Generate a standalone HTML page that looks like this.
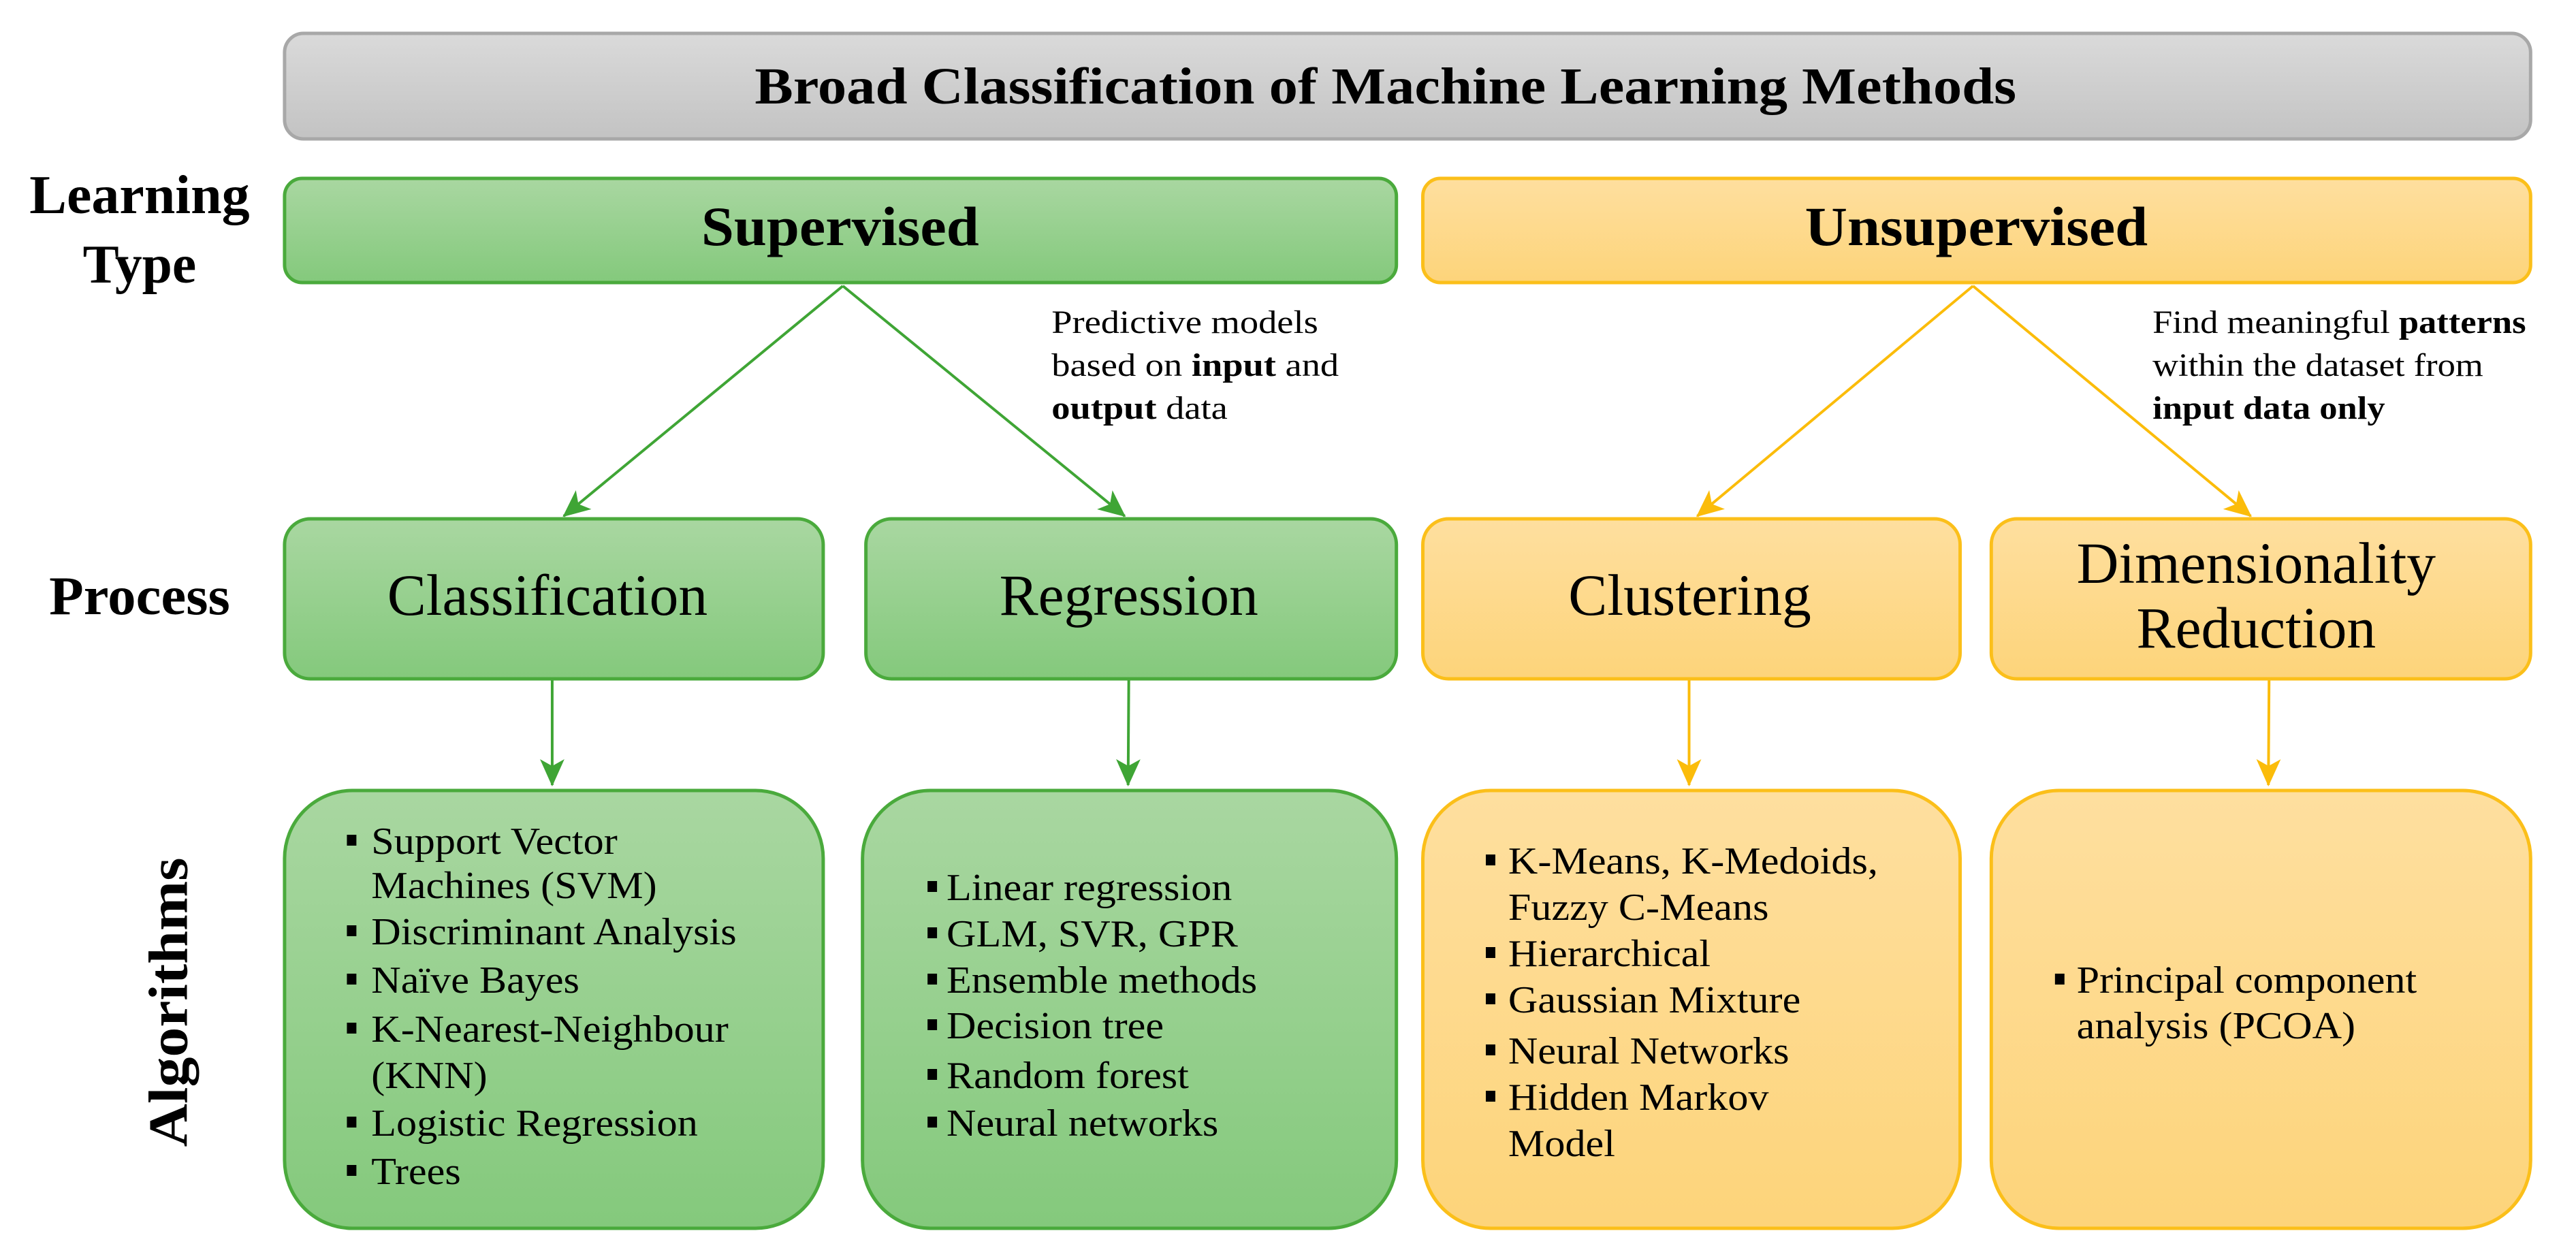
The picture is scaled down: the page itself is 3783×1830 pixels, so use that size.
<!DOCTYPE html>
<html><head><meta charset="utf-8"><style>html,body{margin:0;padding:0;background:#fff}svg{display:block}</style></head>
<body>
<svg width="3783" height="1830" viewBox="0 0 3783 1830" xmlns="http://www.w3.org/2000/svg" font-family="'Liberation Serif', serif">
<defs>
<linearGradient id="gr" x1="0" y1="0" x2="0" y2="1"><stop offset="0" stop-color="#dadada"/><stop offset="1" stop-color="#c3c3c3"/></linearGradient>
<linearGradient id="gg" x1="0" y1="0" x2="0" y2="1"><stop offset="0" stop-color="#a9d7a1"/><stop offset="1" stop-color="#84c97c"/></linearGradient>
<linearGradient id="gy" x1="0" y1="0" x2="0" y2="1"><stop offset="0" stop-color="#fedf9f"/><stop offset="1" stop-color="#fdd47a"/></linearGradient>
<marker id="mg" viewBox="0 0 40 40" refX="38" refY="20" markerWidth="40" markerHeight="40" markerUnits="userSpaceOnUse" orient="auto"><path d="M0,2 L40,20 L0,38 L10,20 Z" fill="#3fa535"/></marker>
<marker id="my" viewBox="0 0 40 40" refX="38" refY="20" markerWidth="40" markerHeight="40" markerUnits="userSpaceOnUse" orient="auto"><path d="M0,2 L40,20 L0,38 L10,20 Z" fill="#fbbc0a"/></marker>
</defs>
<g transform="scale(0.995 1)">
<rect x="420" y="49" width="3315" height="155" rx="28" fill="url(#gr)" stroke="#a8a8a8" stroke-width="5"/>
<text x="2045" y="152" font-size="76" font-weight="bold" text-anchor="middle" textLength="1862" lengthAdjust="spacingAndGlyphs">Broad Classification of Machine Learning Methods</text>

<text x="206" y="313" font-size="80" font-weight="bold" text-anchor="middle" textLength="325" lengthAdjust="spacingAndGlyphs">Learning</text>
<text x="206" y="415" font-size="80" font-weight="bold" text-anchor="middle">Type</text>
<text x="206" y="902" font-size="80" font-weight="bold" text-anchor="middle" textLength="267" lengthAdjust="spacingAndGlyphs">Process</text>
<text transform="translate(276,1472) rotate(-90)" font-size="82" font-weight="bold" text-anchor="middle" textLength="425" lengthAdjust="spacingAndGlyphs">Algorithms</text>

<rect x="420" y="262" width="1641" height="153" rx="26" fill="url(#gg)" stroke="#4aaa3c" stroke-width="5"/>
<text x="1240" y="360" font-size="82" font-weight="bold" text-anchor="middle" textLength="410" lengthAdjust="spacingAndGlyphs">Supervised</text>
<rect x="2100" y="262" width="1635" height="153" rx="26" fill="url(#gy)" stroke="#fbbf1a" stroke-width="5"/>
<text x="2917" y="360" font-size="82" font-weight="bold" text-anchor="middle" textLength="506" lengthAdjust="spacingAndGlyphs">Unsupervised</text>

<g stroke="#3fa535" stroke-width="4" fill="none">
<line x1="1244" y1="420" x2="832" y2="758" marker-end="url(#mg)"/>
<line x1="1244" y1="420" x2="1660" y2="758" marker-end="url(#mg)"/>
<line x1="815" y1="997" x2="815" y2="1153" marker-end="url(#mg)"/>
<line x1="1666" y1="997" x2="1665" y2="1153" marker-end="url(#mg)"/>
</g>
<g stroke="#fbbc0a" stroke-width="4" fill="none">
<line x1="2912" y1="420" x2="2505" y2="758" marker-end="url(#my)"/>
<line x1="2912" y1="420" x2="3322" y2="758" marker-end="url(#my)"/>
<line x1="2493" y1="997" x2="2493" y2="1153" marker-end="url(#my)"/>
<line x1="3349" y1="997" x2="3348" y2="1153" marker-end="url(#my)"/>
</g>

<g font-size="48">
<g transform="translate(1552,0) scale(1.14 1)">
<text x="0" y="489">Predictive models</text>
<text x="0" y="552">based on <tspan font-weight="bold">input</tspan> and</text>
<text x="0" y="615"><tspan font-weight="bold">output</tspan> data</text>
</g>
<g transform="translate(3177,0) scale(1.1 1)">
<text x="0" y="489">Find meaningful <tspan font-weight="bold">patterns</tspan></text>
<text x="0" y="552">within the dataset from</text>
<text x="0" y="615" font-weight="bold">input data only</text>
</g>
</g>

<rect x="420" y="762" width="795" height="235" rx="38" fill="url(#gg)" stroke="#4aaa3c" stroke-width="5"/>
<rect x="1278" y="762" width="783" height="235" rx="38" fill="url(#gg)" stroke="#4aaa3c" stroke-width="5"/>
<rect x="2100" y="762" width="793" height="235" rx="38" fill="url(#gy)" stroke="#fbbf1a" stroke-width="5"/>
<rect x="2939" y="762" width="796" height="235" rx="38" fill="url(#gy)" stroke="#fbbf1a" stroke-width="5"/>
<g font-size="86" text-anchor="middle">
<text x="808" y="903">Classification</text>
<text x="1666" y="903">Regression</text>
<text x="2494" y="903">Clustering</text>
<text x="3330" y="856">Dimensionality</text>
<text x="3330" y="951">Reduction</text>
</g>

<rect x="420" y="1161" width="795" height="643" rx="100" fill="url(#gg)" stroke="#4aaa3c" stroke-width="5"/>
<rect x="1273" y="1161" width="788" height="643" rx="100" fill="url(#gg)" stroke="#4aaa3c" stroke-width="5"/>
<rect x="2100" y="1161" width="793" height="643" rx="100" fill="url(#gy)" stroke="#fbbf1a" stroke-width="5"/>
<rect x="2939" y="1161" width="796" height="643" rx="100" fill="url(#gy)" stroke="#fbbf1a" stroke-width="5"/>

<g font-size="56">
<g transform="translate(548,0) scale(1.08 1)">
<text y="1254">Support Vector</text><text y="1319">Machines (SVM)</text><text y="1387">Discriminant Analysis</text><text y="1458">Naïve Bayes</text><text y="1530">K-Nearest-Neighbour</text><text y="1598">(KNN)</text><text y="1668">Logistic Regression</text><text y="1739">Trees</text>
</g>
<g fill="#000">
<rect x="512" y="1226" width="14" height="16"/><rect x="512" y="1359" width="14" height="16"/><rect x="512" y="1430" width="14" height="16"/><rect x="512" y="1502" width="14" height="16"/><rect x="512" y="1640" width="14" height="16"/><rect x="512" y="1711" width="14" height="16"/>
</g>
<g transform="translate(1397,0) scale(1.08 1)">
<text y="1322">Linear regression</text><text y="1390">GLM, SVR, GPR</text><text y="1458">Ensemble methods</text><text y="1525">Decision tree</text><text y="1598">Random forest</text><text y="1668">Neural networks</text>
</g>
<g fill="#000">
<rect x="1369" y="1294" width="14" height="16"/><rect x="1369" y="1362" width="14" height="16"/><rect x="1369" y="1430" width="14" height="16"/><rect x="1369" y="1497" width="14" height="16"/><rect x="1369" y="1570" width="14" height="16"/><rect x="1369" y="1640" width="14" height="16"/>
</g>
<g transform="translate(2226,0) scale(1.08 1)">
<text y="1283">K-Means, K-Medoids,</text><text y="1351">Fuzzy C-Means</text><text y="1419">Hierarchical</text><text y="1487">Gaussian Mixture</text><text y="1562">Neural Networks</text><text y="1630">Hidden Markov</text><text y="1698">Model</text>
</g>
<g fill="#000">
<rect x="2193" y="1255" width="14" height="16"/><rect x="2193" y="1391" width="14" height="16"/><rect x="2193" y="1459" width="14" height="16"/><rect x="2193" y="1534" width="14" height="16"/><rect x="2193" y="1602" width="14" height="16"/>
</g>
<g transform="translate(3065,0) scale(1.08 1)">
<text y="1458">Principal component</text><text y="1525">analysis (PCOA)</text>
</g>
<rect x="3033" y="1430" width="14" height="16" fill="#000"/>
</g>
</g>
</svg>
</body></html>
